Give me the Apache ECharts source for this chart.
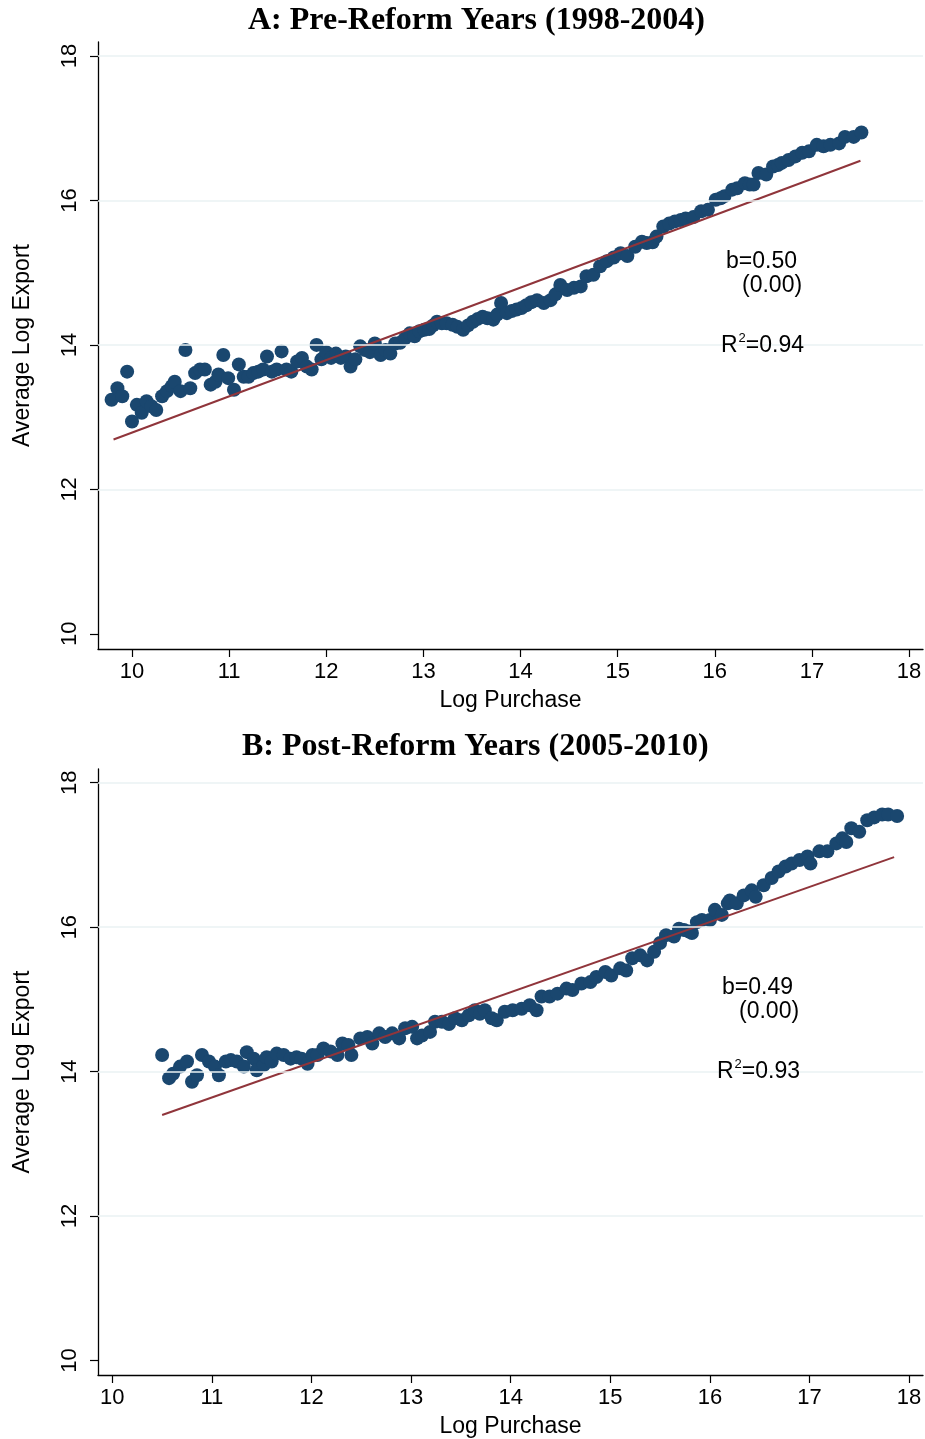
<!DOCTYPE html>
<html>
<head>
<meta charset="utf-8">
<script src="https://cdn.jsdelivr.net/npm/echarts@6/dist/echarts.min.js"></script>
<style>
html,body{margin:0;padding:0;background:#fff;}
#chart{width:925px;height:1439px;}
</style>
</head>
<body>
<div id="chart"></div>
<script>
// Panel A: Pre-Reform (1998-2004)
const xA = [9.79,9.85,9.90,9.95,10.00,10.05,10.10,10.15,10.20,10.25,10.31,10.36,10.41,10.44,10.50,10.55,10.60,10.65,10.70,10.75,10.81,10.86,10.89,10.94,10.99,11.05,11.10,11.15,11.20,11.25,11.30,11.35,11.39,11.44,11.49,11.54,11.59,11.64,11.70,11.75,11.80,11.85,11.90,11.95,12.00,12.05,12.10,12.15,12.20,12.25,12.30,12.35,12.40,12.45,12.50,12.56,12.61,12.66,12.71,12.76,12.81,12.86,12.91,12.96,13.01,13.06,13.10,13.14,13.19,13.24,13.30,13.35,13.41,13.46,13.51,13.56,13.61,13.66,13.72,13.76,13.80,13.86,13.91,13.96,14.01,14.06,14.11,14.17,14.24,14.31,14.36,14.41,14.48,14.55,14.62,14.68,14.75,14.82,14.89,14.96,15.03,15.10,15.18,15.25,15.30,15.36,15.40,15.47,15.53,15.59,15.65,15.70,15.78,15.86,15.93,16.01,16.06,16.10,16.18,16.23,16.31,16.36,16.40,16.45,16.53,16.60,16.65,16.69,16.76,16.83,16.90,16.97,17.05,17.12,17.19,17.28,17.34,17.43,17.51];
const yA = [13.24,13.40,13.29,13.63,12.94,13.17,13.06,13.22,13.15,13.10,13.29,13.36,13.43,13.49,13.36,13.93,13.40,13.61,13.66,13.66,13.45,13.49,13.59,13.86,13.54,13.38,13.73,13.56,13.56,13.61,13.63,13.66,13.84,13.63,13.66,13.91,13.66,13.63,13.77,13.82,13.70,13.66,14.00,13.80,13.90,13.82,13.88,13.82,13.84,13.70,13.80,13.98,13.93,13.90,14.02,13.86,13.93,13.88,14.02,14.03,14.09,14.16,14.12,14.19,14.21,14.22,14.27,14.32,14.30,14.30,14.28,14.25,14.21,14.27,14.32,14.36,14.39,14.37,14.35,14.42,14.58,14.44,14.47,14.49,14.51,14.55,14.59,14.62,14.58,14.62,14.70,14.83,14.76,14.79,14.81,14.95,14.97,15.09,15.16,15.21,15.27,15.23,15.36,15.43,15.41,15.42,15.50,15.64,15.68,15.71,15.73,15.75,15.77,15.85,15.87,16.01,16.03,16.06,16.15,16.17,16.24,16.22,16.22,16.38,16.36,16.47,16.49,16.52,16.56,16.61,16.66,16.68,16.77,16.75,16.77,16.79,16.88,16.88,16.94];
const fitAx = [9.81, 17.50];
const fitAy = [12.69, 16.55];

// Panel B: Post-Reform (2005-2010)
const xB = [10.50,10.57,10.61,10.68,10.75,10.80,10.85,10.90,10.97,11.03,11.07,11.14,11.19,11.25,11.32,11.35,11.42,11.45,11.52,11.55,11.60,11.65,11.72,11.79,11.85,11.90,11.96,12.01,12.06,12.12,12.19,12.26,12.31,12.37,12.40,12.49,12.56,12.61,12.68,12.74,12.81,12.88,12.94,13.01,13.06,13.11,13.19,13.24,13.31,13.38,13.44,13.51,13.58,13.64,13.69,13.74,13.81,13.86,13.94,14.02,14.11,14.19,14.26,14.31,14.39,14.47,14.56,14.62,14.71,14.80,14.86,14.95,15.01,15.10,15.16,15.22,15.30,15.37,15.44,15.50,15.56,15.64,15.69,15.74,15.79,15.82,15.87,15.92,16.00,16.05,16.12,16.18,16.20,16.27,16.34,16.42,16.46,16.54,16.62,16.69,16.76,16.82,16.90,16.98,17.01,17.10,17.18,17.27,17.33,17.37,17.42,17.50,17.58,17.65,17.73,17.79,17.88];
const yB = [14.23,13.91,13.97,14.07,14.14,13.86,13.95,14.23,14.14,14.07,13.95,14.14,14.16,14.14,14.07,14.27,14.18,14.02,14.09,14.20,14.14,14.25,14.23,14.18,14.20,14.18,14.11,14.23,14.23,14.32,14.28,14.23,14.39,14.37,14.23,14.46,14.48,14.39,14.53,14.48,14.53,14.46,14.60,14.62,14.46,14.50,14.55,14.69,14.69,14.66,14.74,14.71,14.78,14.85,14.80,14.85,14.74,14.71,14.83,14.85,14.87,14.92,14.85,15.04,15.04,15.08,15.15,15.13,15.22,15.24,15.31,15.38,15.33,15.43,15.40,15.57,15.61,15.54,15.66,15.78,15.89,15.87,15.98,15.96,15.94,15.92,16.07,16.10,16.10,16.24,16.17,16.33,16.37,16.33,16.44,16.51,16.42,16.58,16.68,16.77,16.84,16.88,16.93,16.98,16.88,17.05,17.05,17.16,17.23,17.18,17.37,17.32,17.48,17.52,17.56,17.56,17.54];
const fitBx = [10.50, 17.85];
const fitBy = [13.40, 16.97];

const tickX = [10,11,12,13,14,15,16,17,18];
const tickY = [10,12,14,16,18];
const gridY = [12,14,16,18];
const titles = ['A: Pre-Reform Years (1998-2004)', 'B: Post-Reform Years (2005-2010)'];
const xTitle = 'Log Purchase';
const yTitle = 'Average Log Export';
const statsA = ['b=0.50', '(0.00)', '=0.94'];
const statsB = ['b=0.49', '(0.00)', '=0.93'];

const NAVY = '#1a476f';
const MAROON = '#90353b';
const GRIDC = '#eaf2f3';
const SANS = 'Liberation Sans, Arial, sans-serif';

function pairs(xs, ys){ return xs.map((x,i)=>[x, ys[i]]); }

function xAxisCfg(gi, min, max){
  return {
    type:'value', gridIndex:gi, min:min, max:max,
    axisLine:{show:true, onZero:false, lineStyle:{color:'#000', width:1.3}},
    axisTick:{show:true, length:8, lineStyle:{color:'#000', width:1.2}, customValues:tickX},
    axisLabel:{color:'#000', fontSize:22, fontFamily:SANS, margin:12, customValues:tickX},
    splitLine:{show:false},
    name:xTitle, nameLocation:'middle', nameGap:40,
    nameTextStyle:{color:'#000', fontSize:23, fontFamily:SANS}
  };
}
function yAxisCfg(gi, min, max){
  return {
    type:'value', gridIndex:gi, min:min, max:max,
    axisLine:{show:true, onZero:false, lineStyle:{color:'#000', width:1.3}},
    axisTick:{show:true, length:8, lineStyle:{color:'#000', width:1.2}, customValues:tickY},
    axisLabel:{color:'#000', fontSize:22, fontFamily:SANS, margin:17, rotate:90, customValues:tickY},
    splitLine:{show:false},
    name:yTitle, nameLocation:'middle', nameGap:64,
    nameTextStyle:{color:'#000', fontSize:23, fontFamily:SANS}
  };
}
function gridSeries(i){
  return {
    type:'scatter', xAxisIndex:i, yAxisIndex:i, symbolSize:0, silent:true, z:1,
    data:[[tickX[0], gridY[0]]],
    markLine:{silent:true, symbol:'none', label:{show:false}, animation:false,
      lineStyle:{color:GRIDC, type:'solid', width:1.5},
      data: gridY.map(v=>({yAxis:v}))}
  };
}
function dots(i, xs, ys){
  return {type:'scatter', xAxisIndex:i, yAxisIndex:i, symbol:'circle', symbolSize:14,
    itemStyle:{color:NAVY, opacity:1}, data:pairs(xs, ys), z:3};
}
function fit(i, xs, ys){
  return {type:'line', xAxisIndex:i, yAxisIndex:i, symbol:'none', data:pairs(xs, ys),
    lineStyle:{color:MAROON, width:2}, z:4};
}
function statText(x, y, txt){
  return {type:'text', left:x, top:y, z:100, zlevel:1, style:{text:txt, fill:'#000', font:'23px ' + SANS}};
}
function r2Text(x, y, txt){
  return {type:'text', left:x, top:y, z:100, zlevel:1, style:{
    text:'{n|R}{s|2}{n|' + txt + '}',
    rich:{
      n:{fontSize:23, fontFamily:SANS, fill:'#000', color:'#000', lineHeight:26, verticalAlign:'bottom'},
      s:{fontSize:13, fontFamily:SANS, fill:'#000', color:'#000', lineHeight:13, verticalAlign:'bottom', padding:[0,0,12,1]}
    }
  }};
}

const chart = echarts.init(document.getElementById('chart'), null, {renderer:'canvas'});
chart.setOption({
  animation:false,
  backgroundColor:'#fff',
  title:[
    {text:titles[0], left:243, top:0, textStyle:{fontFamily:'Liberation Serif, serif', fontWeight:'bold', fontSize:32, color:'#000'}},
    {text:titles[1], left:237, top:726, textStyle:{fontFamily:'Liberation Serif, serif', fontWeight:'bold', fontSize:32, color:'#000'}}
  ],
  grid:[
    {left:98, top:42, width:825, height:607},
    {left:98, top:769, width:825, height:606}
  ],
  xAxis:[ xAxisCfg(0, 9.65, 18.144), xAxisCfg(1, 9.856, 18.14) ],
  yAxis:[ yAxisCfg(0, 9.79, 18.194), yAxisCfg(1, 9.80, 18.19) ],
  series:[
    gridSeries(0), gridSeries(1),
    dots(0, xA, yA), dots(1, xB, yB),
    fit(0, fitAx, fitAy), fit(1, fitBx, fitBy)
  ],
  graphic:[
    statText(726, 250, statsA[0]), statText(742, 274, statsA[1]), r2Text(721, 332, statsA[2]),
    statText(722, 976, statsB[0]), statText(739, 1000, statsB[1]), r2Text(717, 1058, statsB[2])
  ]
});
</script>
</body>
</html>
